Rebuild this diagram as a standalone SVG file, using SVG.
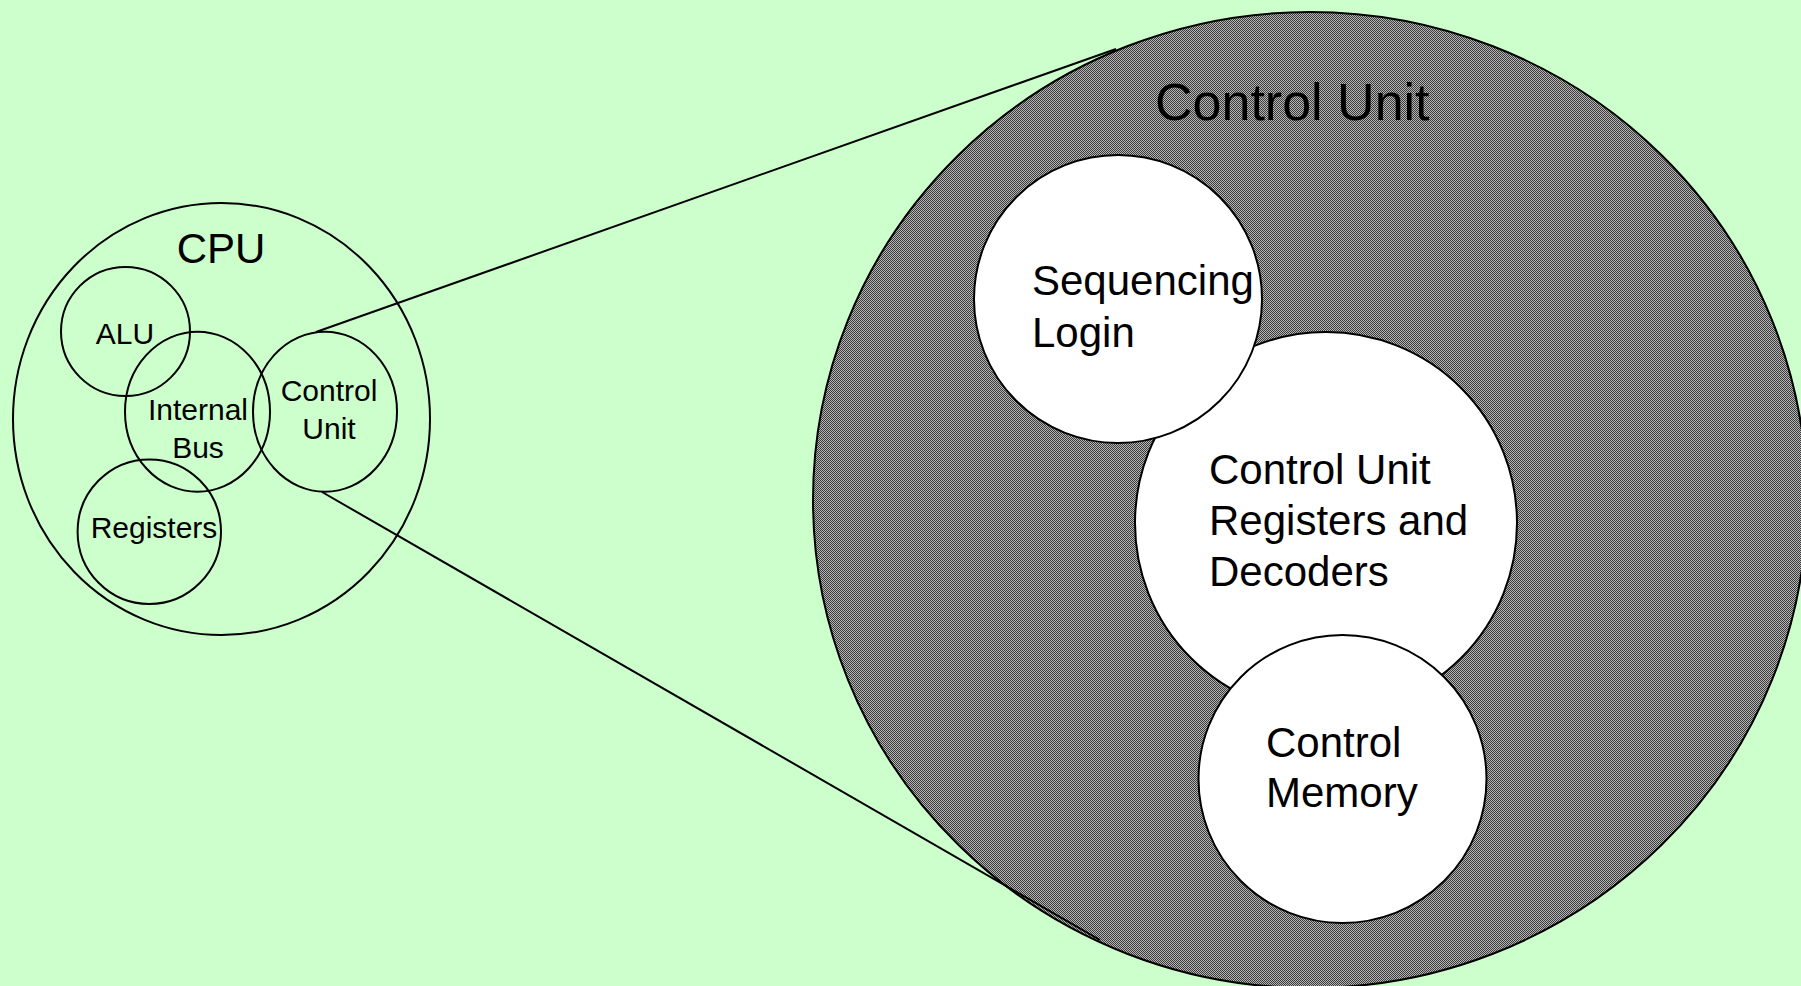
<svg xmlns="http://www.w3.org/2000/svg" width="1801" height="986" viewBox="0 0 1801 986">
<style>
.o{fill:none;stroke:#000;stroke-width:2}
.w{fill:#fff;stroke:#000;stroke-width:2}
.t{font-family:"Liberation Sans",Arial,sans-serif;fill:#000}
.s{font-size:30px;text-anchor:middle}
.b{font-size:42px}
</style>
<defs>
<pattern id="dots" patternUnits="userSpaceOnUse" width="2" height="2">
<rect width="2" height="2" fill="#b4b4b4"/>
<rect width="1" height="1" fill="#3c3c3c"/>
<rect x="1" y="1" width="1" height="1" fill="#3c3c3c"/>
</pattern>
</defs>
<rect width="1801" height="986" fill="#ccffcc"/>
<g id="big-control-unit">
<ellipse cx="1310" cy="500" rx="497" ry="488" fill="url(#dots)" stroke="#000" stroke-width="2"/>
<text class="t" x="1155" y="120" font-size="52">Control Unit</text>
</g>
<g id="cu-registers">
<circle class="w" cx="1326" cy="523" r="191"/>
<text class="t b" x="1209" y="484">Control Unit</text>
<text class="t b" x="1209" y="535">Registers and</text>
<text class="t b" x="1209" y="586">Decoders</text>
</g>
<g id="sequencing">
<circle class="w" cx="1118" cy="299" r="144"/>
<text class="t b" x="1032" y="295">Sequencing</text>
<text class="t b" x="1032" y="347">Login</text>
</g>
<g id="control-memory">
<circle class="w" cx="1342.5" cy="779" r="144"/>
<text class="t b" x="1266" y="757">Control</text>
<text class="t b" x="1266" y="807">Memory</text>
</g>
<g id="cpu">
<ellipse class="o" cx="221.5" cy="419" rx="208.5" ry="216"/>
<text class="t" x="221" y="263" font-size="42" text-anchor="middle">CPU</text>
</g>
<g id="alu">
<circle class="o" cx="125.5" cy="331.5" r="64.5"/>
<text class="t s" x="125" y="344">ALU</text>
</g>
<g id="internal-bus">
<ellipse class="o" cx="197.5" cy="411.7" rx="72.5" ry="80"/>
<text class="t s" x="198" y="420">Internal</text>
<text class="t s" x="198" y="458">Bus</text>
</g>
<g id="control-unit-small">
<ellipse class="o" cx="325" cy="411.7" rx="72" ry="80"/>
<text class="t s" x="329" y="401">Control</text>
<text class="t s" x="329" y="439">Unit</text>
</g>
<g id="registers">
<ellipse class="o" cx="149.3" cy="531.7" rx="71.7" ry="72.3"/>
<text class="t s" x="154" y="538">Registers</text>
</g>
<g id="connectors" stroke="#000" stroke-width="2" fill="none">
<line x1="316" y1="332" x2="1116" y2="49"/>
<line x1="322" y1="492" x2="1100" y2="940"/>
</g>
</svg>
